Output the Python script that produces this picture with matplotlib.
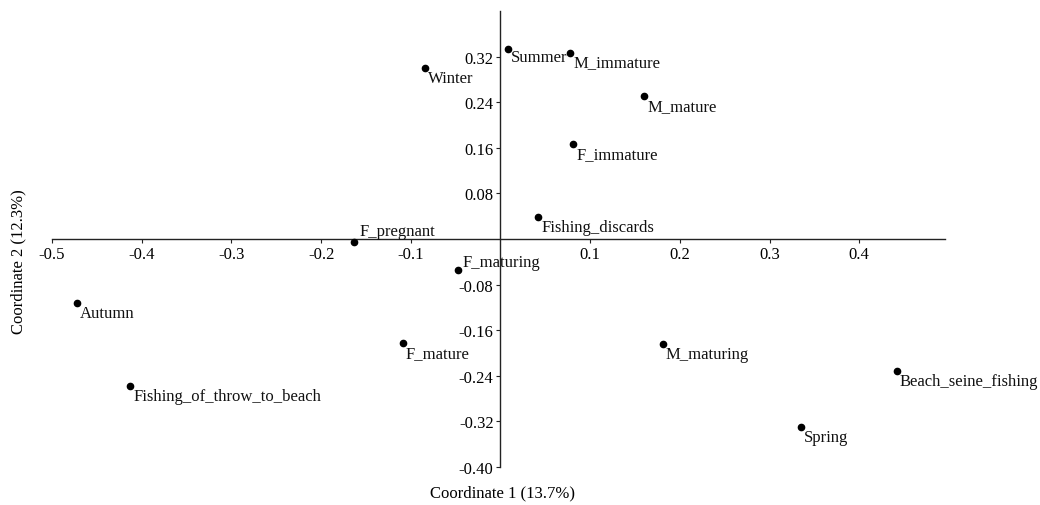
import matplotlib
matplotlib.use("Agg")
import matplotlib.pyplot as plt
import numpy as np

plt.rcParams["font.family"] = ["Liberation Serif", "DejaVu Serif"]
plt.rcParams["font.size"] = 12

# ---------------------------------------------------------------------------
# Data (PCoA scores)
# ---------------------------------------------------------------------------
labels = [
    "Summer", "M_immature", "Winter", "M_mature", "F_immature",
    "Fishing_discards", "F_pregnant", "F_maturing", "Autumn", "F_mature",
    "M_maturing", "Beach_seine_fishing", "Fishing_of_throw_to_beach", "Spring",
]
coord1 = [0.008, 0.078, -0.084, 0.160, 0.081, 0.042, -0.163, -0.047,
          -0.472, -0.109, 0.181, 0.442, -0.413, 0.335]
coord2 = [0.334, 0.327, 0.300, 0.251, 0.166, 0.039, -0.006, -0.055,
          -0.113, -0.183, -0.185, -0.232, -0.258, -0.330]

x_ticks = [-0.5, -0.4, -0.3, -0.2, -0.1, 0.1, 0.2, 0.3, 0.4]
y_ticks = [0.32, 0.24, 0.16, 0.08, -0.08, -0.16, -0.24, -0.32, -0.40]

XLIM = (-0.5, 0.495)
YLIM = (-0.40, 0.40)

# label offsets in pixels (default: lower right of the dot)
DEFAULT_OFFSET = (3, -10)
OFFSETS = {
    "Summer": (3, -8),
    "F_pregnant": (5, 11),
    "F_maturing": (4, 8),
}

# ---------------------------------------------------------------------------
# Plot
# ---------------------------------------------------------------------------
W, H = 1040, 506
fig = plt.figure(figsize=(W / 100, H / 100), dpi=100)

left_px, top_px, bottom_px = 52, 12, 468
px_per_unit = 897
ax_w = (XLIM[1] - XLIM[0]) * px_per_unit
ax = fig.add_axes([left_px / W, (H - bottom_px) / H, ax_w / W,
                   (bottom_px - top_px) / H])

ax.plot(coord1, coord2, "o", color="black", markersize=4.5, zorder=3)

for lab, x, y in zip(labels, coord1, coord2):
    off = OFFSETS.get(lab, DEFAULT_OFFSET)
    ax.annotate(lab, (x, y), xytext=off, textcoords="offset pixels",
                ha="left", va="center", fontsize=12, color="#111111")

ax.set_xlim(*XLIM)
ax.set_ylim(*YLIM)

for side in ("top", "right"):
    ax.spines[side].set_visible(False)
ax.spines["left"].set_position(("data", 0))
ax.spines["bottom"].set_position(("data", 0))
for side in ("left", "bottom"):
    ax.spines[side].set_color("#222222")
    ax.spines[side].set_linewidth(1.0)

ax.set_xticks(x_ticks)
ax.set_xticklabels([f"{v:.1f}" for v in x_ticks])
ax.set_yticks(y_ticks)
ax.set_yticklabels([f"{v:.2f}" for v in y_ticks])
ax.tick_params(axis="both", direction="out", length=3, width=0.8,
               color="#222222", labelsize=12, pad=2)

fig.text(502 / W, 1 - 493 / H, "Coordinate 1 (13.7%)", ha="center",
         va="center", fontsize=12)
fig.text(18 / W, 1 - 262 / H, "Coordinate 2 (12.3%)", ha="center",
         va="center", rotation=90, fontsize=12)

plt.savefig("out.png", dpi=100)
plt.close()
